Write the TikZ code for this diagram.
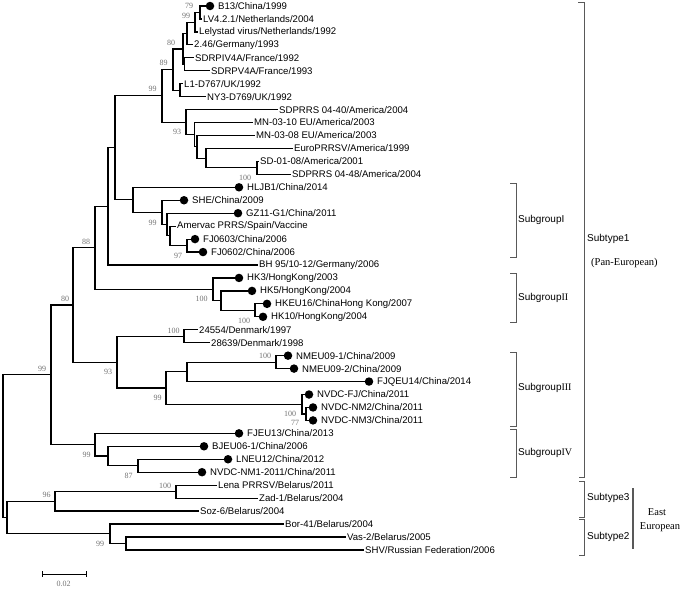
\documentclass[tikz,border=0pt]{standalone}
\usepackage{fontspec}
\setmainfont{Liberation Serif}
\setsansfont{Liberation Sans}
\usetikzlibrary{calc}
\tikzset{
  br/.style={line width=1.2pt, line cap=rect, line join=miter},
  leaflab/.style={anchor=west, inner sep=0pt, font=\sffamily\fontsize{9.6}{10}\selectfont},
  dotmark/.style={circle, fill=black, inner sep=0pt, minimum size=8.5pt},
  bs/.style={font=\rmfamily\fontsize{8}{9}\selectfont, text=black!55, inner sep=0pt},
  grp/.style={anchor=west, inner sep=0pt, font=\sffamily\fontsize{10}{12}\selectfont},
  serlab/.style={inner sep=0pt, font=\rmfamily\fontsize{10.5}{12}\selectfont},
  brk/.style={draw=black!65, line width=0.8pt},
}
\newcommand{\plainleaf}[4]{\coordinate (#1) at (#2,#3); \node[leaflab] (#1t) at ([xshift=2pt]#1) {#4};}
\newcommand{\dotleaf}[4]{\coordinate (#1) at (#2,#3); \node[dotmark] (#1d) at ([xshift=4pt]#1) {}; \node[leaflab] (#1t) at ([xshift=12pt]#1) {#4};}
\newcommand{\clade}[3]{\draw[br] (#1) |- (#2); \draw[br] (#1) |- (#3);}
\begin{document}
\begin{tikzpicture}[x=1pt,y=-1pt]
\useasboundingbox (0,0) rectangle (685,589);
% leaves
\dotleaf{b13}{206}{6.0}{B13/China/1999}
\plainleaf{lv4}{201}{18.95}{LV4.2.1/Netherlands/2004}
\plainleaf{lely}{197}{31.9}{Lelystad virus/Netherlands/1992}
\plainleaf{g246}{192}{44.85}{2.46/Germany/1993}
\plainleaf{sdrpiv}{193}{57.8}{SDRPIV4A/France/1992}
\plainleaf{sdrpv}{209}{70.75}{SDRPV4A/France/1993}
\plainleaf{lone}{182}{83.7}{L1-D767/UK/1992}
\plainleaf{nythree}{205}{96.65}{NY3-D769/UK/1992}
\plainleaf{sdfourforty}{277}{109.6}{SDPRRS 04-40/America/2004}
\plainleaf{mnten}{252}{122.55}{MN-03-10 EU/America/2003}
\plainleaf{mneight}{254}{135.5}{MN-03-08 EU/America/2003}
\plainleaf{euro}{292}{148.45}{EuroPRRSV/America/1999}
\plainleaf{sdzero}{258}{161.4}{SD-01-08/America/2001}
\plainleaf{sdfourfortyeight}{290}{174.35}{SDPRRS 04-48/America/2004}
\dotleaf{hljb}{235}{187.3}{HLJB1/China/2014}
\dotleaf{she}{180}{200.25}{SHE/China/2009}
\dotleaf{gz}{234}{213.2}{GZ11-G1/China/2011}
\plainleaf{amer}{175}{226.15}{Amervac PRRS/Spain/Vaccine}
\dotleaf{fjthree}{191}{239.1}{FJ0603/China/2006}
\dotleaf{fjtwo}{199}{252.05}{FJ0602/China/2006}
\plainleaf{bh}{257}{265.0}{BH 95/10-12/Germany/2006}
\dotleaf{hkthree}{235}{277.95}{HK3/HongKong/2003}
\dotleaf{hkfive}{248}{290.9}{HK5/HongKong/2004}
\dotleaf{hkeu}{263}{303.85}{HKEU16/ChinaHong Kong/2007}
\dotleaf{hkten}{259}{316.8}{HK10/HongKong/2004}
\plainleaf{dkone}{197}{329.75}{24554/Denmark/1997}
\plainleaf{dktwo}{209}{342.7}{28639/Denmark/1998}
\dotleaf{nmone}{284}{355.65}{NMEU09-1/China/2009}
\dotleaf{nmtwo}{290}{368.6}{NMEU09-2/China/2009}
\dotleaf{fjq}{365}{381.55}{FJQEU14/China/2014}
\dotleaf{nvfj}{305}{394.5}{NVDC-FJ/China/2011}
\dotleaf{nvnmtwo}{309}{407.45}{NVDC-NM2/China/2011}
\dotleaf{nvnmthree}{309}{420.4}{NVDC-NM3/China/2011}
\dotleaf{fjeu}{235}{433.35}{FJEU13/China/2013}
\dotleaf{bjeu}{200}{446.3}{BJEU06-1/China/2006}
\dotleaf{lneu}{224}{459.25}{LNEU12/China/2012}
\dotleaf{nvnmone}{198}{472.2}{NVDC-NM1-2011/China/2011}
\plainleaf{lena}{216}{485.15}{Lena PRRSV/Belarus/2011}
\plainleaf{zad}{257}{498.1}{Zad-1/Belarus/2004}
\plainleaf{soz}{198}{511.05}{Soz-6/Belarus/2004}
\plainleaf{bor}{283}{524.0}{Bor-41/Belarus/2004}
\plainleaf{vas}{345}{536.95}{Vas-2/Belarus/2005}
\plainleaf{shv}{363}{549.9}{SHV/Russian Federation/2006}
% internal nodes
\coordinate (nA) at (200,12.475);
\coordinate (nB) at (195,22.19);
\coordinate (nC) at (187,33.52);
\coordinate (nE) at (184.5,64.28);
\coordinate (nD) at (183,48.9);
\coordinate (nG) at (180,90.18);
\coordinate (nF) at (173,69.54);
\coordinate (nL) at (257,167.88);
\coordinate (nK) at (206,158.16);
\coordinate (nJ) at (197,146.83);
\coordinate (nI) at (194.5,134.69);
\coordinate (nNT) at (186,122.15);
\coordinate (nH) at (162,95.85);
\coordinate (nFJ) at (187,245.58);
\coordinate (nAm) at (170,235.86);
\coordinate (nGZ) at (167,224.53);
\coordinate (nSH) at (162,212.39);
\coordinate (nHL) at (133,199.85);
\coordinate (nX) at (115,147.85);
\coordinate (nBH) at (108,206.43);
\coordinate (nHKt) at (255,310.33);
\coordinate (nHKf) at (221,300.61);
\coordinate (nHK) at (213,289.28);
\coordinate (nEE8) at (95,247.85);
\coordinate (nDK) at (184,336.23);
\coordinate (nNM) at (276,362.13);
\coordinate (nFQ) at (187,371.84);
\coordinate (nNVb) at (306,413.93);
\coordinate (nNV) at (302,404.21);
\coordinate (nNN) at (166,388.03);
\coordinate (nNT2) at (117,362.13);
\coordinate (nEZ) at (73,304.99);
\coordinate (nLN) at (138,465.73);
\coordinate (nBJ) at (108,456.01);
\coordinate (nFE) at (95,444.68);
\coordinate (nPan) at (51,374.84);
\coordinate (nLe) at (176,491.63);
\coordinate (nSz) at (55,501.34);
\coordinate (nVa) at (126,543.43);
\coordinate (nBo) at (110,533.71);
\coordinate (nEast) at (7,517.53);
\coordinate (nRoot) at (3,446.19);
% branches
\clade{nA}{b13}{lv4}
\clade{nB}{nA}{lely}
\clade{nC}{nB}{g246}
\clade{nE}{sdrpiv}{sdrpv}
\clade{nD}{nC}{nE}
\clade{nG}{lone}{nythree}
\clade{nF}{nD}{nG}
\clade{nL}{sdzero}{sdfourfortyeight}
\clade{nK}{euro}{nL}
\clade{nJ}{mneight}{nK}
\clade{nI}{mnten}{nJ}
\clade{nNT}{sdfourforty}{nI}
\clade{nH}{nF}{nNT}
\clade{nFJ}{fjthree}{fjtwo}
\clade{nAm}{amer}{nFJ}
\clade{nGZ}{gz}{nAm}
\clade{nSH}{she}{nGZ}
\clade{nHL}{hljb}{nSH}
\clade{nX}{nH}{nHL}
\clade{nBH}{nX}{bh}
\clade{nHKt}{hkeu}{hkten}
\clade{nHKf}{hkfive}{nHKt}
\clade{nHK}{hkthree}{nHKf}
\clade{nEE8}{nBH}{nHK}
\clade{nDK}{dkone}{dktwo}
\clade{nNM}{nmone}{nmtwo}
\clade{nFQ}{nNM}{fjq}
\clade{nNVb}{nvnmtwo}{nvnmthree}
\clade{nNV}{nvfj}{nNVb}
\clade{nNN}{nFQ}{nNV}
\clade{nNT2}{nDK}{nNN}
\clade{nEZ}{nEE8}{nNT2}
\clade{nLN}{lneu}{nvnmone}
\clade{nBJ}{bjeu}{nLN}
\clade{nFE}{fjeu}{nBJ}
\clade{nPan}{nEZ}{nFE}
\clade{nLe}{lena}{zad}
\clade{nSz}{nLe}{soz}
\clade{nVa}{vas}{shv}
\clade{nBo}{bor}{nVa}
\clade{nEast}{nSz}{nBo}
\clade{nRoot}{nPan}{nEast}
% bootstrap values
\node[bs] (bsA) at (189,6) {79};
\node[bs] (bsB) at (186,16) {99};
\node[bs] (bsD) at (171,43) {80};
\node[bs] (bsF) at (163.5,63) {89};
\node[bs] (bsH) at (152.5,89) {99};
\node[bs] (bsNT) at (177,132) {93};
\node[bs] (bsL) at (245,178) {100};
\node[bs] (bsSH) at (152.5,223) {99};
\node[bs] (bsFJ) at (178,256) {97};
\node[bs] (bsEE8) at (86,242) {88};
\node[bs] (bsHK) at (201.5,299) {100};
\node[bs] (bsHKt) at (244,321) {100};
\node[bs] (bsEZ) at (65,299) {80};
\node[bs] (bsDK) at (173.5,331) {100};
\node[bs] (bsNT2) at (108,372) {93};
\node[bs] (bsNM) at (265,356) {100};
\node[bs] (bsNN) at (157.5,398) {99};
\node[bs] (bsNV) at (290,414) {100};
\node[bs] (bsNVb) at (295,423) {77};
\node[bs] (bsPan) at (42,369) {99};
\node[bs] (bsFE) at (86.5,455) {99};
\node[bs] (bsLN) at (128.5,476) {87};
\node[bs] (bsLe) at (165,486) {100};
\node[bs] (bsSz) at (46.5,495) {96};
\node[bs] (bsBo) at (100,544) {99};
% brackets
\draw[brk] (578,2) -- (584,2) -- (584,477) -- (579,477);
\draw[brk] (510,183) -- (516,183) -- (516,257) -- (510,257);
\draw[brk] (510,273) -- (516,273) -- (516,322) -- (510,322);
\draw[brk] (510,352) -- (516,352) -- (516,426) -- (510,426);
\draw[brk] (510,429) -- (516,429) -- (516,477) -- (510,477);
\draw[brk] (579,481) -- (584,481) -- (584,517) -- (579,517);
\draw[brk] (579,519) -- (584,519) -- (584,555) -- (579,555);
\draw[draw=black!65, line width=1.3pt] (633,488) -- (633,549);
\node[grp] (gI) at (518,220) {SubgroupI};
\node[grp] (gII) at (518,298) {Subgroup{\rmfamily II}};
\node[grp] (gIII) at (518,388) {Subgroup{\rmfamily III}};
\node[grp] (gIV) at (518,453) {Subgroup{\rmfamily IV}};
\node[grp] (tOne) at (587,239) {Subtype1};
\node[serlab, anchor=west] (tPan) at (591,263) {(Pan-European)};
\node[grp] (tThree) at (587,498) {Subtype3};
\node[grp] (tTwo) at (587,537) {Subtype2};
\node[serlab] (tEast) at (657,512) {East};
\node[serlab] (tEur) at (660,527) {European};
% scale bar
\coordinate (sbL) at (42,574);
\coordinate (sbR) at (86,574);
\draw[line width=0.9pt] (sbL) -- (sbR);
\draw[line width=0.9pt] ([yshift=3pt]sbL) -- ([yshift=-3pt]sbL);
\draw[line width=0.9pt] ([yshift=3pt]sbR) -- ([yshift=-3pt]sbR);
\node[bs] (sbT) at (63.5,584) {0.02};
\end{tikzpicture}
\end{document}
